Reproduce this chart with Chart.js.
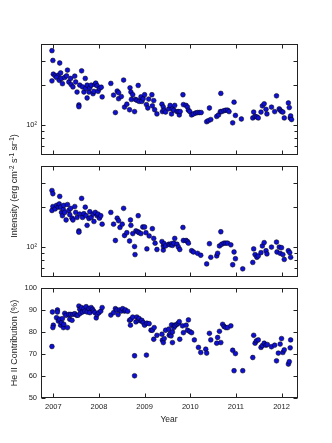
<!DOCTYPE html>
<html>
<head>
<meta charset="utf-8">
<script src="https://cdn.jsdelivr.net/npm/chart.js@4.4.1/dist/chart.umd.min.js"></script>
<style>
  html, body { margin: 0; padding: 0; background: #fff; }
  #wrap { position: relative; width: 332px; height: 443px; overflow: hidden; font-family: "Liberation Sans", Arial, sans-serif; color: #222; }
  #wrap canvas { position: absolute; left: 0; top: 0; }
  .lbl { position: absolute; white-space: nowrap; transform: translate(-50%, -50%); }
  .vert { transform: translate(-50%, -50%) rotate(-90deg); }
  sup { font-size: 70%; vertical-align: 0.45em; line-height: 0; }
</style>
</head>
<body>
<div id="wrap">
  <canvas id="topPanel" width="332" height="443"></canvas>
  <canvas id="midPanel" width="332" height="443"></canvas>
  <canvas id="hePanel" width="332" height="443"></canvas>
  <div class="lbl vert" style="left:14px; top:186px; font-size:9px;">Intensity (erg cm<sup>-2</sup> s<sup>-1</sup> sr<sup>-1</sup>)</div>
  <div class="lbl vert" style="left:14px; top:343px; font-size:9px;">He II Contribution (%)</div>
  <div class="lbl" style="left:169px; top:419px; font-size:8.5px;">Year</div>
</div>
<script>
// tick positions
const yearTicks = [2007, 2008, 2009, 2010, 2011, 2012];
const logMajorTicks = [100, 200, 300];
const logMinorTicks = [70, 80, 90];
const heTicks = [50, 60, 70, 80, 90, 100];

// [year, intensity] top panel
const topIntensity = [
  [2006.97,357],[2006.99,302],[2007.14,289],[2007.00,239],[2006.97,213],[2007.04,232],[2007.11,235],[2007.16,244],
  [2007.07,226],[2007.13,215],[2007.18,222],[2007.20,203],[2007.25,226],[2007.31,256],[2007.34,209],[2007.29,232],
  [2007.38,222],[2007.39,200],[2007.43,192],[2007.47,231],[2007.49,209],[2007.52,176],[2007.56,141],[2007.56,137],
  [2007.58,198],[2007.62,253],[2007.64,192],[2007.67,176],[2007.70,222],[2007.71,187],[2007.74,198],[2007.74,159],
  [2007.78,176],[2007.80,189],[2007.83,198],[2007.87,171],[2007.89,178],[2007.91,200],[2007.93,205],[2007.96,196],
  [2007.98,178],[2008.01,187],[2008.05,191],[2008.07,162],
  [2008.26,204],[2008.32,167],[2008.36,124],[2008.40,179],[2008.43,157],[2008.43,174],[2008.49,163],[2008.54,216],
  [2008.56,136],[2008.61,143],[2008.67,130],[2008.68,189],[2008.70,176],[2008.71,155],[2008.74,168],[2008.78,126],
  [2008.80,155],[2008.83,153],[2008.86,197],[2008.88,150],[2008.92,162],[2008.94,150],[2008.97,157],[2009.00,168],
  [2009.04,142],[2009.07,134],[2009.09,156],[2009.16,168],[2009.17,139],[2009.20,152],[2009.22,130],[2009.27,121],
  [2009.38,143],[2009.39,126],[2009.41,136],[2009.43,129],[2009.46,125],
  [2009.53,132],[2009.56,140],[2009.59,121],[2009.61,132],[2009.64,129],[2009.66,140],[2009.71,126],[2009.74,126],
  [2009.76,119],[2009.78,126],[2009.84,168],[2009.85,142],[2009.91,140],[2009.94,136],[2009.96,129],[2009.99,126],
  [2010.03,119],[2010.07,121],[2010.12,123],[2010.16,124],[2010.20,124],[2010.24,124],[2010.36,106],[2010.40,108],
  [2010.42,134],[2010.45,110],[2010.58,116],[2010.62,119],[2010.66,126],[2010.67,172],[2010.69,126],[2010.74,128],
  [2010.78,129],[2010.82,129],[2010.85,126],[2010.93,104],[2010.96,148],[2010.99,118],[2011.12,111],
  [2011.37,113],[2011.39,125],[2011.42,116],[2011.46,115],[2011.49,113],[2011.55,125],[2011.58,139],[2011.62,144],
  [2011.66,131],[2011.68,121],[2011.78,136],[2011.85,126],[2011.89,165],[2011.95,132],[2011.97,129],[2012.00,126],
  [2012.03,125],[2012.06,113],[2012.15,146],[2012.17,135],[2012.19,113],[2012.20,117],[2012.22,110]
];

// [year, intensity] middle panel
const midIntensity = [
  [2006.97,263],[2006.99,249],[2007.14,238],[2006.99,200],[2006.97,187],[2007.04,192],[2007.07,204],[2007.11,198],
  [2007.13,209],[2007.16,198],[2007.18,181],[2007.22,190],[2007.20,171],[2007.23,204],[2007.25,181],[2007.28,159],
  [2007.31,207],[2007.34,187],[2007.36,174],[2007.38,194],[2007.41,164],[2007.43,159],[2007.47,200],[2007.49,181],
  [2007.52,166],[2007.56,132],[2007.56,129],[2007.58,176],[2007.62,230],[2007.64,166],[2007.67,177],[2007.70,198],
  [2007.72,171],[2007.74,145],[2007.78,163],[2007.80,183],[2007.83,166],[2007.87,176],[2007.89,155],[2007.92,181],
  [2007.96,171],[2007.98,176],[2008.01,164],[2008.04,171],[2008.07,148],
  [2008.26,181],[2008.32,148],[2008.36,112],[2008.40,164],[2008.43,157],[2008.46,140],[2008.51,148],[2008.54,194],
  [2008.56,122],[2008.61,128],[2008.67,111],[2008.69,159],[2008.70,145],[2008.74,126],[2008.78,101],[2008.79,88],
  [2008.81,132],[2008.85,130],[2008.86,171],[2008.88,128],[2008.92,126],[2008.96,141],[2009.00,141],[2009.03,128],
  [2009.05,97],[2009.10,121],[2009.17,137],[2009.20,116],[2009.23,107],[2009.27,96],[2009.38,110],[2009.41,95],
  [2009.41,102],[2009.43,106],[2009.46,102],
  [2009.53,105],[2009.56,104],[2009.59,106],[2009.61,103],[2009.64,107],[2009.66,116],[2009.71,105],[2009.74,100],
  [2009.77,96],[2009.84,140],[2009.85,112],[2009.91,112],[2009.94,110],[2009.96,107],[2010.03,94],[2010.07,92],
  [2010.16,90],[2010.23,87],[2010.36,75],[2010.42,106],[2010.45,84],[2010.58,86],[2010.60,90],[2010.64,102],
  [2010.67,130],[2010.69,105],[2010.74,107],[2010.78,107],[2010.82,107],[2010.89,104],[2010.93,74],[2010.96,92],
  [2010.99,82],[2011.15,69],[2011.37,77],[2011.39,97],[2011.42,88],[2011.46,84],[2011.49,86],[2011.55,91],
  [2011.58,102],[2011.62,108],[2011.66,94],[2011.68,89],[2011.78,100],[2011.89,109],[2011.90,92],[2011.95,100],
  [2011.97,90],[2012.00,99],[2012.03,88],[2012.06,81],[2012.15,94],[2012.18,91],[2012.20,84]
];

// [year, percent] bottom panel
const heContribution = [
  [2006.97,73.4],[2006.98,89.1],[2007.00,83.1],[2006.99,82.0],[2007.07,86.5],[2007.09,90.0],[2007.09,89.1],[2007.11,85.0],
  [2007.14,85.8],[2007.16,83.1],[2007.18,84.3],[2007.20,86.1],[2007.22,82.0],[2007.23,83.5],[2007.25,88.5],[2007.28,87.6],
  [2007.31,82.0],[2007.34,88.0],[2007.36,85.8],[2007.38,88.0],[2007.41,85.3],[2007.43,88.0],[2007.47,88.3],[2007.51,87.6],
  [2007.54,87.6],[2007.56,91.8],[2007.58,90.3],[2007.59,88.5],[2007.62,91.1],[2007.64,89.1],[2007.67,90.6],[2007.69,89.5],
  [2007.72,91.5],[2007.74,89.1],[2007.78,90.6],[2007.80,88.8],[2007.83,91.1],[2007.86,90.3],[2007.88,89.5],[2007.91,88.8],
  [2007.94,86.4],[2007.96,87.9],[2008.00,88.8],[2008.04,89.5],[2008.07,91.1],
  [2008.26,87.7],[2008.32,88.8],[2008.36,90.6],[2008.39,90.0],[2008.42,87.9],[2008.45,90.0],[2008.49,89.5],[2008.52,90.6],
  [2008.56,89.5],[2008.58,90.0],[2008.63,89.4],[2008.67,85.3],[2008.69,83.1],[2008.70,85.8],[2008.74,86.8],[2008.78,69.2],
  [2008.78,60.1],[2008.81,84.6],[2008.83,86.8],[2008.86,85.3],[2008.88,86.1],[2008.92,85.0],[2008.94,85.3],[2008.97,84.3],
  [2009.00,83.1],[2009.04,69.5],[2009.05,84.0],[2009.10,83.8],[2009.14,80.8],[2009.17,80.8],[2009.21,82.0],[2009.20,76.7],
  [2009.27,78.5],[2009.38,79.0],[2009.39,76.3],[2009.41,75.2],[2009.43,77.0],[2009.46,80.8],
  [2009.53,81.3],[2009.54,78.5],[2009.56,79.3],[2009.58,78.2],[2009.59,83.2],[2009.61,75.2],[2009.61,80.0],[2009.64,82.0],
  [2009.65,83.1],[2009.67,82.8],[2009.71,83.5],[2009.74,84.0],[2009.76,84.7],[2009.77,76.7],[2009.83,82.8],[2009.85,79.7],
  [2009.91,83.1],[2009.94,80.8],[2009.96,85.5],[2009.99,80.2],[2010.03,79.7],[2010.09,76.4],[2010.18,73.0],[2010.23,70.7],
  [2010.34,72.2],[2010.36,70.4],[2010.42,79.4],[2010.45,76.4],[2010.58,74.9],[2010.60,77.5],[2010.64,80.3],[2010.67,75.2],
  [2010.71,83.5],[2010.74,82.5],[2010.78,82.0],[2010.82,82.0],[2010.89,82.8],[2010.93,71.7],[2010.99,70.2],[2010.96,62.4],
  [2011.15,62.4],[2011.37,68.4],[2011.39,78.5],[2011.42,74.9],[2011.45,76.0],[2011.49,76.4],[2011.55,73.0],[2011.58,73.8],
  [2011.62,74.9],[2011.66,74.0],[2011.69,74.3],[2011.78,73.3],[2011.85,74.0],[2011.89,66.9],[2011.93,70.4],[2011.97,74.5],
  [2012.00,77.0],[2012.03,70.7],[2012.06,71.9],[2012.15,65.4],[2012.17,66.5],[2012.19,72.8],[2012.20,76.4]
];

const W = 332, H = 443;
const plotLeft = 41, plotRight = 297.5;
const tickFont = { family: '"Liberation Sans", Arial, sans-serif', size: 7.5 };
const textColor = '#222';

// frame + inward tick marks on all four sides
const frameTicks = {
    id: 'frameTicks',
    afterDraw(chart, args, opts) {
        const ctx = chart.ctx;
        const a = chart.chartArea;
        const x = chart.scales.x, y = chart.scales.y;
        const l = Math.round(a.left) + 0.5, r = Math.round(a.right) - 0.5;
        const t = Math.round(a.top) + 0.5, b = Math.round(a.bottom) - 0.5;
        ctx.save();
        ctx.strokeStyle = '#222';
        ctx.lineWidth = 1;
        ctx.beginPath();
        yearTicks.forEach(v => {
            const px = Math.round(x.getPixelForValue(v)) + 0.5;
            ctx.moveTo(px, b); ctx.lineTo(px, b - 4);
            ctx.moveTo(px, t); ctx.lineTo(px, t + 4);
        });
        const mark = (v, len) => {
            const py = Math.round(y.getPixelForValue(v)) + 0.5;
            ctx.moveTo(l, py); ctx.lineTo(l + len, py);
            ctx.moveTo(r, py); ctx.lineTo(r - len, py);
        };
        opts.major.forEach(v => mark(v, 4));
        opts.minor.forEach(v => mark(v, 3));
        ctx.stroke();
        ctx.strokeRect(l, t, r - l, b - t);
        ctx.restore();
    }
};

function makePanel(id, points, top, bottom, yScale, showYears) {
    new Chart(document.getElementById(id), {
        type: 'scatter',
        data: {
            datasets: [{
                data: points.map(p => ({ x: p[0], y: p[1] })),
                backgroundColor: '#1010d2',
                borderColor: '#000',
                borderWidth: 0.5,
                pointRadius: 2.4
            }]
        },
        options: {
            responsive: false,
            animation: false,
            layout: { padding: { left: 0, right: W - plotRight, top: top, bottom: 0 } },
            plugins: {
                legend: { display: false },
                tooltip: { enabled: false },
                frameTicks: yScale.marks
            },
            scales: {
                x: {
                    type: 'linear',
                    min: 2006.73,
                    max: 2012.35,
                    grid: { display: false, drawTicks: false },
                    border: { display: false },
                    afterFit: s => { s.height = H - bottom; },
                    afterBuildTicks: s => { s.ticks = yearTicks.map(v => ({ value: v })); },
                    ticks: { display: showYears, padding: 4, font: tickFont, color: textColor, maxRotation: 0, autoSkip: false, callback: v => String(v) }
                },
                y: Object.assign({
                    grid: { display: false, drawTicks: false },
                    border: { display: false },
                    afterFit: s => { s.width = plotLeft; }
                }, yScale.cfg)
            }
        },
        plugins: [frameTicks]
    });
}

const logCfg = {
    type: 'logarithmic',
    min: 60,
    max: 400,
    afterBuildTicks: s => { s.ticks = [{ value: 100 }]; },
    ticks: { padding: 4, font: tickFont, color: textColor, autoSkip: false, callback: v => v === 100 ? '10²' : '' }
};

makePanel('topPanel', topIntensity, 44, 155, { cfg: logCfg, marks: { major: logMajorTicks, minor: logMinorTicks } }, false);
makePanel('midPanel', midIntensity, 166, 277, { cfg: logCfg, marks: { major: logMajorTicks, minor: logMinorTicks } }, false);
makePanel('hePanel', heContribution, 288, 398, {
    cfg: {
        type: 'linear',
        min: 50,
        max: 100,
        afterBuildTicks: s => { s.ticks = heTicks.map(v => ({ value: v })); },
        ticks: { padding: 4, font: tickFont, color: textColor, autoSkip: false, callback: v => String(v) }
    },
    marks: { major: heTicks, minor: [] }
}, true);
</script>
</body>
</html>
